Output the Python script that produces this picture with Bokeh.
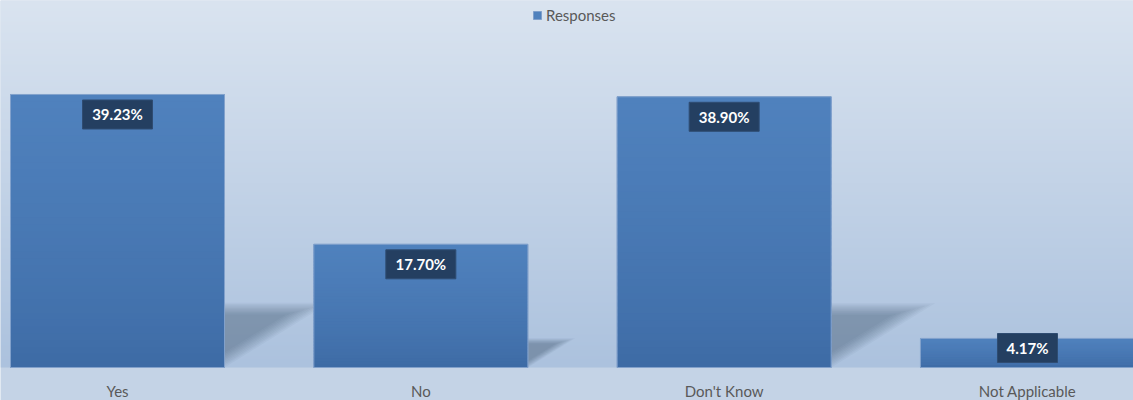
import numpy as np
from bokeh.plotting import figure
from bokeh.models import Legend, LegendItem, ColumnDataSource
from bokeh.core.properties import value
from bokeh.embed import file_html
from bokeh.resources import INLINE

# ---- data ----
categories = ["Yes", "No", "Don't Know", "Not Applicable"]
responses = [39.23, 17.70, 38.90, 4.17]
value_labels = ["39.23%", "17.70%", "38.90%", "4.17%"]
series_name = "Responses"

# ---- layout constants ----
W, H = 1133, 400
BOTTOM = 33                      # floor area below the baseline, px
PPU_Y = 6.959                    # px per % unit
Y_MIN = -BOTTOM / PPU_Y
Y_MAX = (H - BOTTOM) / PPU_Y
PPU_X = 303.33                   # px per category
X0 = -117 / PPU_X
X1 = X0 + W / PPU_X
BAR_W = 214 / PPU_X
FONT = "Lato"
GREY = "#595959"

xs = list(range(len(categories)))

p = figure(width=W, height=H, x_range=(X0, X1), y_range=(Y_MIN, Y_MAX),
           output_backend="svg", toolbar_location=None, min_border=0,
           x_axis_location=None, y_axis_location=None)
p.grid.visible = False
p.outline_line_color = None
p.border_fill_color = "#c4d3e6"
p.background_fill_color = "#c4d3e6"

# background gradient (top light -> bottom darker), above the floor
top_c = np.array([218, 228, 240])
bot_c = np.array([172, 194, 222])
rows = 400
img = np.empty((rows, 1), dtype=np.uint32)
view = img.view(dtype=np.uint8).reshape((rows, 1, 4))
for r in range(rows):
    t = r / (rows - 1)  # 0 bottom -> 1 top
    c = bot_c + (top_c - bot_c) * t
    view[r, 0, 0:3] = c.astype(np.uint8)
    view[r, 0, 3] = 255
p.image_rgba(image=[img], x=X0, y=0, dw=X1 - X0, dh=Y_MAX)

# perspective shadows (soft, layered)
K = 10
for k in range(K):
    t = k / (K - 1)
    my = 1.08 - 0.2 * t
    mx = 1.2 - 0.5 * t
    pxs, pys = [], []
    for x, v in zip(xs, responses):
        h_px = v * PPU_Y
        dx = 0.32 * h_px / PPU_X * mx
        dy = 0.22 * v * my
        e = 0.22 * v * 0.25 * t
        l, r = x - BAR_W / 2, x + BAR_W / 2
        pxs.append([l, r, r + dx, l + dx])
        pys.append([e, e, dy, dy])
    p.patches(pxs, pys, fill_color="#2e3d52", fill_alpha=0.044, line_color=None)

# base bars (also legend glyph)
base = p.vbar(x=xs, top=responses, width=BAR_W, bottom=0,
              fill_color="#4f81bd", line_color="#7f9fcb", line_width=1)

# vertical gradient on each bar
bot_b = np.array([61, 106, 164])
top_b = np.array([80, 130, 190])
N = 40
sx, sb, st, sc = [], [], [], []
for x, v in zip(xs, responses):
    for k in range(N):
        t = (k + 0.5) / N
        t2 = t ** 0.7
        c = (bot_b + (top_b - bot_b) * t2).astype(int)
        sx.append(x)
        sb.append(v * k / N)
        st.append(min(v * (k + 1.6) / N, v))
        sc.append("#%02x%02x%02x" % tuple(c))
p.vbar(x=sx, bottom=sb, top=st, width=BAR_W, fill_color=sc, line_color=None)
p.vbar(x=xs, top=responses, width=BAR_W, bottom=0, fill_alpha=0,
       line_color="#86a4cd", line_width=1, line_alpha=0.9)

# data labels in dark boxes
lab_y = [max(v - 20 / PPU_Y, 19.5 / PPU_Y) for v in responses]
box_w = [10 * len(s) + 10 for s in value_labels]
src = ColumnDataSource(dict(x=xs, y=lab_y, w=box_w, t=value_labels))
p.rect(x="x", y="y", width="w", height=29, width_units="screen",
       height_units="screen", fill_color="#243f61", line_color="#2f4c72",
       line_width=1, source=src)
p.text(x="x", y="y", text="t", source=src, text_color="white",
       text_font=value(FONT), text_font_style="bold", text_font_size="15px",
       text_align="center", text_baseline="middle")

# category labels (tick labels) under the floor line
cat_src = ColumnDataSource(dict(x=xs, y=[-23 / PPU_Y] * len(xs), t=categories))
p.text(x="x", y="y", text="t", source=cat_src, text_color=GREY,
       text_font=value(FONT), text_font_size="15px",
       text_align="center", text_baseline="middle")

# legend
leg = Legend(items=[LegendItem(label=series_name, renderers=[base])],
             location=(532, H - 8 - 16), orientation="horizontal",
             background_fill_alpha=0, border_line_color=None,
             padding=0, margin=0, spacing=0,
             glyph_width=10, glyph_height=10, label_height=16,
             label_standoff=4, label_text_font=FONT,
             label_text_font_size="15px", label_text_color=GREY)
p.add_layout(leg, "center")

open("out.html", "w").write(file_html(p, INLINE))
